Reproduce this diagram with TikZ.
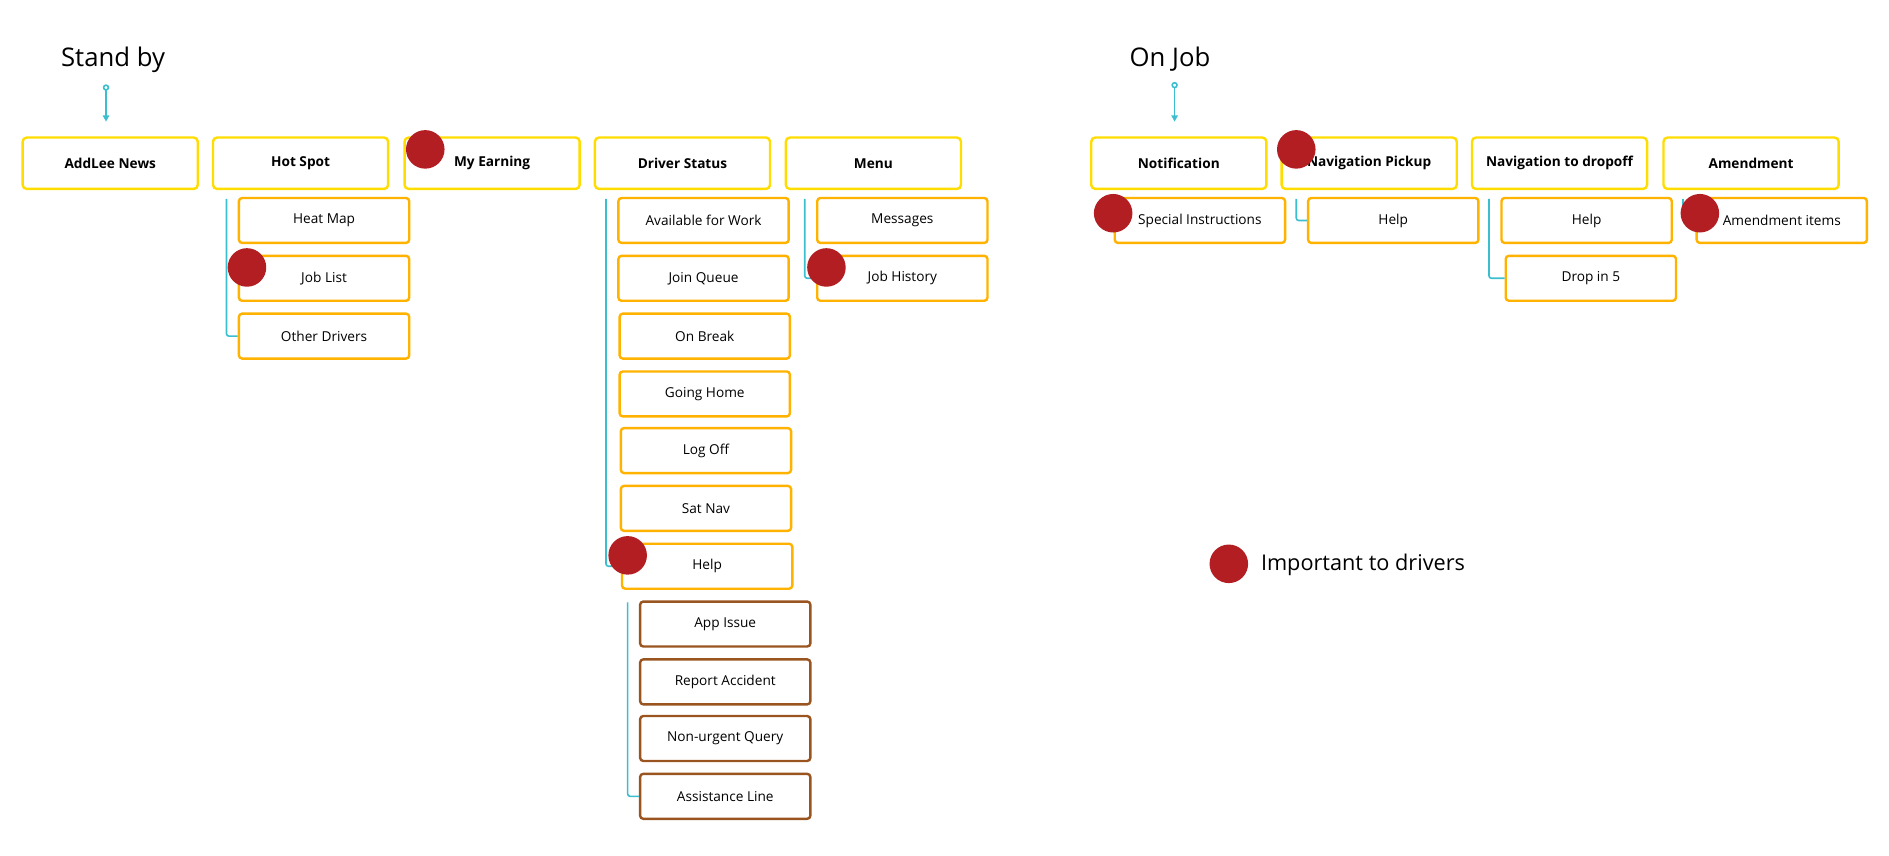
\documentclass[tikz,border=0pt]{standalone}
\usepackage{fontspec}
\setmainfont{Open Sans}
\usetikzlibrary{arrows.meta}
\definecolor{topyel}{HTML}{FFDD00}
\definecolor{subor}{HTML}{FFB300}
\definecolor{subbr}{HTML}{9A5420}
\definecolor{dotred}{HTML}{B21E22}
\definecolor{lineteal}{HTML}{3BBFCF}
\tikzset{
  top/.style={draw=topyel,line width=1.5pt,rounded corners=2.5pt,minimum width=109pt,minimum height=32pt,font=\fontsize{8.5}{10}\selectfont\bfseries},
  sub/.style={draw=subor,line width=1.5pt,rounded corners=2pt,minimum width=106pt,minimum height=28pt,font=\fontsize{8.5}{10}\selectfont},
  subsub/.style={sub,draw=subbr},
  bracket/.style={draw=lineteal,line width=1pt,rounded corners=1.5pt},
  imp/.style={circle,fill=dotred,minimum size=24pt,inner sep=0pt},
  title/.style={font=\fontsize{16}{19}\selectfont,anchor=base west}
}
\begin{document}
\begin{tikzpicture}[x=0.75pt,y=-0.75pt]
\useasboundingbox (0,0) rectangle (1568,710);
%Titles
\node[title] (standby) at (46,55) {Stand by};
\node[title] (onjob) at (933,55) {On Job};
\draw[lineteal,line width=1pt,{Circle[open,length=4pt]}-{Triangle[length=4pt,width=4pt]}] (88,70) -- (88,101);
\draw[lineteal,line width=1pt,{Circle[open,length=4pt]}-{Triangle[length=4pt,width=4pt]}] (975,68) -- (975,101);

%Stand by, top row
\node[top] (news) at (91.5,135.5) {AddLee News};
\node[top] (hot) at (249.5,135.5) {Hot Spot};
\node[top] (earn) at (408.5,135.5) {My Earning};
\node[top] (status) at (566.5,135.5) {Driver Status};
\node[top] (menu) at (725,135.5) {Menu};

%Hot spot
\node[sub] (heat) at (269,183) {Heat Map};
\node[sub] (joblist) at (269,231) {Job List};
\node[sub] (others) at (269,279) {Other Drivers};
\draw[bracket] (188,165) |- (others.west);

%Driver status
\node[sub] (avail) at (584,183) {Available for Work};
\node[sub] (queue) at (584,231) {Join Queue};
\node[sub] (break) at (585,279) {On Break};
\node[sub] (home) at (585,327) {Going Home};
\node[sub] (logoff) at (586,374) {Log Off};
\node[sub] (satnav) at (586,422) {Sat Nav};
\node[sub] (help) at (587,470) {Help};
\draw[bracket] (503,165) |- (help.west);

%Help
\node[subsub] (appissue) at (602,518) {App Issue};
\node[subsub] (accident) at (602,566) {Report Accident};
\node[subsub] (query) at (602,613) {Non-urgent Query};
\node[subsub] (assist) at (602,661) {Assistance Line};
\draw[bracket] (521,500) |- (assist.west);

%Menu
\node[sub] (msgs) at (749,183) {Messages};
\node[sub] (history) at (749,231) {Job History};
\draw[bracket] (668,165) |- (history.west);

%On job, top row
\node[top] (notif) at (978.5,135.5) {Notification};
\node[top] (pickup) at (1136.5,135.5) {Navigation Pickup};
\node[top] (dropoff) at (1294.5,135.5) {Navigation to dropoff};
\node[top] (amend) at (1453.5,135.5) {Amendment};

\node[sub] (special) at (996,183) {Special Instructions};
\draw[bracket] (915,165) |- (special.west);
\node[sub] (pickhelp) at (1156.5,183) {Help};
\draw[bracket] (1076,165) |- (pickhelp.west);
\node[sub] (drophelp) at (1317,183) {Help};
\node[sub] (drop5) at (1320.5,231) {Drop in 5};
\draw[bracket] (1236,165) |- (drop5.west);
\node[sub] (amenditems) at (1479,183) {Amendment items};
\draw[bracket] (1397,165) |- (amenditems.west);

%Important dots
\node[imp] (d1) at (353,124) {};
\node[imp] (d2) at (205,222) {};
\node[imp] (d3) at (686,222) {};
\node[imp] (d4) at (521,461) {};
\node[imp] (d5) at (1076,124) {};
\node[imp] (d6) at (924,177) {};
\node[imp] (d7) at (1411,177) {};

%Legend
\node[imp] (legdot) at (1020,468) {};
\node[font=\fontsize{13.5}{16}\selectfont,anchor=west] (legtext) at (1042,469) {Important to drivers};
\end{tikzpicture}
\end{document}
